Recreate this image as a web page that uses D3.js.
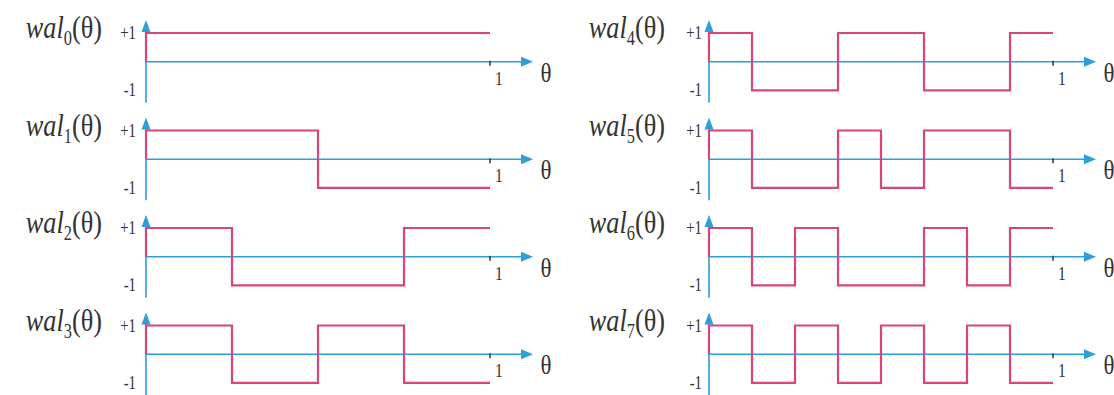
<!DOCTYPE html>
<html>
<head>
<meta charset="utf-8">
<script src="https://cdn.jsdelivr.net/npm/d3@7/dist/d3.min.js"></script>
<style>
  html, body { margin: 0; padding: 0; background: #fff; }
  svg { display: block; }
  text { font-family: "Liberation Serif", "DejaVu Serif", serif; fill: #333; }
</style>
</head>
<body>
<svg id="chart" width="1114" height="395"></svg>
<script>
// ---- data ----
const functionIndex = [0, 1, 2, 3, 4, 5, 6, 7];
const segments = [0, 0.125, 0.25, 0.375, 0.5, 0.625, 0.75, 0.875]; // segment starts on θ in [0,1)
const wal0 = [ 1,  1,  1,  1,  1,  1,  1,  1];
const wal1 = [ 1,  1,  1,  1, -1, -1, -1, -1];
const wal2 = [ 1,  1, -1, -1, -1, -1,  1,  1];
const wal3 = [ 1,  1, -1, -1,  1,  1, -1, -1];
const wal4 = [ 1, -1, -1,  1,  1, -1, -1,  1];
const wal5 = [ 1, -1, -1,  1, -1,  1,  1, -1];
const wal6 = [ 1, -1,  1, -1, -1,  1, -1,  1];
const wal7 = [ 1, -1,  1, -1,  1, -1,  1, -1];
const series = [wal0, wal1, wal2, wal3, wal4, wal5, wal6, wal7];
const yTickLabels = ["+1", "-1"];
const yTickValues = [1, -1];
const xTickLabels = ["1"];
const xTickValues = [1];
const axisName = "θ";

// ---- style ----
const RED = "#d8457a";
const BLUE = "#2c9ed8";
const TEXTSX = 0.82;

const svg = d3.select("#chart");

const colScale = d3.scaleOrdinal().domain([0, 1]).range([146, 709]); // y-axis x position per column
const rowScale = d3.scaleLinear().domain([0, 3]).range([33, 325.5]);  // +1 level per row
const plotW = 344, halfH = 28.7;

const line = d3.line().curve(d3.curveStepAfter);

functionIndex.forEach((k, i) => {
  const col = Math.floor(i / 4), row = i % 4;
  const x0 = colScale(col);
  const top = rowScale(row);
  const x = d3.scaleLinear().domain([0, 1]).range([x0, x0 + plotW]);
  const y = d3.scaleLinear().domain([-1, 1]).range([top + 2 * halfH, top]);
  const g = svg.append("g");

  // x axis
  g.append("line")
    .attr("x1", x(0)).attr("x2", x(1.11)).attr("y1", y(0)).attr("y2", y(0))
    .attr("stroke", BLUE).attr("stroke-width", 1.6);
  const xt = x(1.125), yt = y(0);
  g.append("path")
    .attr("d", `M${xt},${yt} L${xt - 12},${yt - 5} L${xt - 12},${yt + 5} Z`)
    .attr("fill", BLUE);
  // y axis
  g.append("line")
    .attr("x1", x(0)).attr("x2", x(0)).attr("y1", y(1.3)).attr("y2", y(-1.43))
    .attr("stroke", BLUE).attr("stroke-width", 1.6);
  const ya = y(1.45);
  g.append("path")
    .attr("d", `M${x(0)},${ya} L${x(0) - 4.5},${ya + 12} L${x(0) + 4.5},${ya + 12} Z`)
    .attr("fill", BLUE);

  // x ticks
  xTickValues.forEach((v, j) => {
    g.append("line")
      .attr("x1", x(v)).attr("x2", x(v)).attr("y1", y(0) - 1).attr("y2", y(0) + 4)
      .attr("stroke", "#333").attr("stroke-width", 1.5);
    g.append("text")
      .attr("transform", `translate(${x(v) + 9},${y(0) + 23}) scale(${TEXTSX},1)`)
      .attr("text-anchor", "middle").attr("font-size", 19)
      .text(xTickLabels[j]);
  });
  // θ label
  g.append("text")
    .attr("transform", `translate(${x(1.163)},${y(0) + 20}) scale(${TEXTSX},1)`)
    .attr("text-anchor", "middle").attr("font-size", 28)
    .text(axisName);

  // y tick labels
  yTickValues.forEach((v, j) => {
    g.append("text")
      .attr("transform", `translate(${x(0) - (col ? 7 : 10)},${y(v) + 6}) scale(${TEXTSX},1)`)
      .attr("text-anchor", "end").attr("font-size", 18)
      .text(yTickLabels[j]);
  });

  // function label
  const lab = g.append("text")
    .attr("transform", `translate(${x(0) - 44},${y(1) + 5}) scale(${TEXTSX},1)`)
    .attr("text-anchor", "end").attr("font-size", 32);
  lab.append("tspan").attr("font-style", "italic").text("wal");
  lab.append("tspan").attr("font-size", 20).attr("dy", 7).text(String(k));
  lab.append("tspan").attr("dy", -7).text("(" + axisName + ")");

  // walsh function
  const vals = series[i];
  const pts = [[x(0), y(0)]]
    .concat(segments.map((s, j) => [x(s), y(vals[j])]))
    .concat([[x(1), y(vals[vals.length - 1])]]);
  g.append("path")
    .attr("d", line(pts))
    .attr("fill", "none").attr("stroke", RED).attr("stroke-width", 2.2);
});
</script>
</body>
</html>
